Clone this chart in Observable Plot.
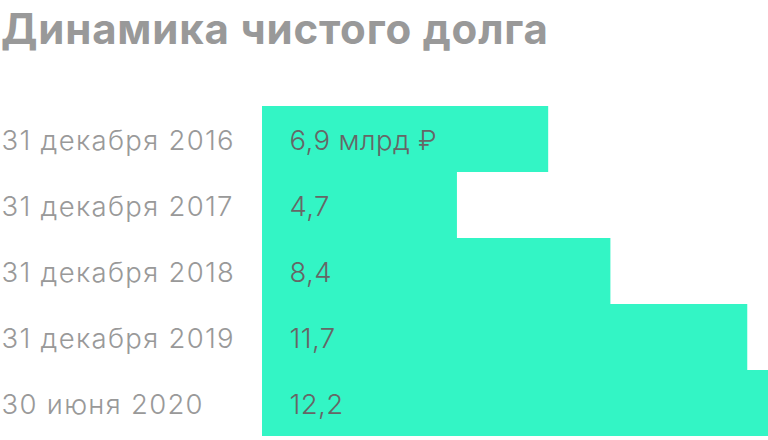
<!DOCTYPE html>
<html>
<head>
<meta charset="utf-8">
<script src="https://cdn.jsdelivr.net/npm/d3@7"></script>
<script src="https://cdn.jsdelivr.net/npm/@observablehq/plot@0.6"></script>
<style>
  html, body { margin: 0; padding: 0; background: #fff; }
  #title { font-family: Inter, sans-serif; font-weight: bold; font-size: 42px; color: #999; height: 106px; line-height: 1; padding-top: 8px; padding-left: 1px; box-sizing: border-box; letter-spacing: 0.8px; }
  svg { display: block; }
</style>
</head>
<body>
<div id="title">Динамика чистого долга</div>
<div id="chart"></div>
<script>
const dates = ["31 декабря 2016", "31 декабря 2017", "31 декабря 2018", "31 декабря 2019", "30 июня 2020"];
const values = [6.9, 4.7, 8.4, 11.7, 12.2];
const valueLabels = ["6,9 млрд ₽", "4,7", "8,4", "11,7", "12,2"];

const data = dates.map((d, i) => ({date: d, value: values[i], label: valueLabels[i]}));

const chart = Plot.plot({
  width: 768,
  height: 334,
  marginLeft: 262,
  marginRight: 0,
  marginTop: 0,
  marginBottom: 4,
  style: {fontFamily: "Inter, sans-serif", background: "#fff"},
  x: {domain: [0, 12.2], axis: null},
  y: {domain: dates, padding: 0, axis: null},
  marks: [
    Plot.barX(data, {x: "value", y: "date", fill: "#33F5C5"}),
    Plot.text(data, {y: "date", text: "date", frameAnchor: "left", dx: -261, dy: 1.5, textAnchor: "start", fontSize: 27.5, fontWeight: 300, fill: "#999"}),
    Plot.text(data, {x: 0, y: "date", text: "label", dx: 27, dy: 1.5, textAnchor: "start", fontSize: 27.5, fontWeight: 300, fill: "#666"})
  ]
});
const textGroups = d3.select(chart).selectAll('g[aria-label="text"]').nodes();
if (textGroups[0]) d3.select(textGroups[0]).style("letter-spacing", "1.3px");
if (textGroups[1]) d3.select(textGroups[1]).style("letter-spacing", "0.4px");
document.getElementById("chart").appendChild(chart);
</script>
</body>
</html>
